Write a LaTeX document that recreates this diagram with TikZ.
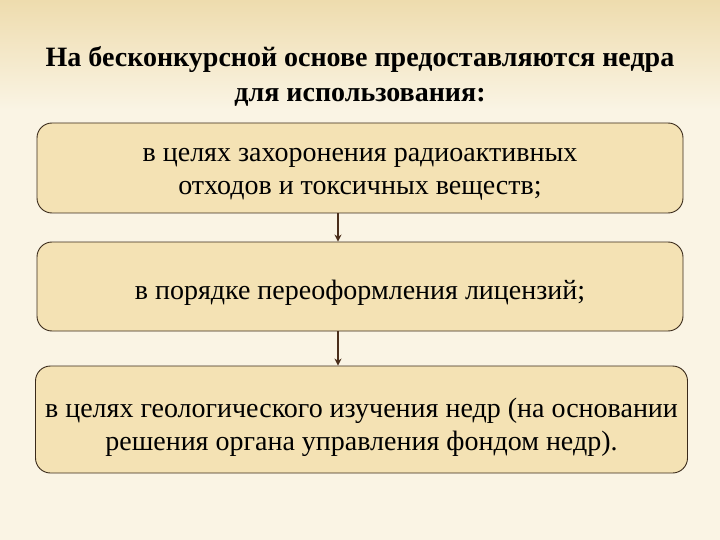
\documentclass[tikz,border=0pt]{standalone}
\usepackage{fontspec}
\setmainfont{Liberation Serif}
\usetikzlibrary{arrows.meta}
\definecolor{bgtop}{HTML}{EEDCAE}
\definecolor{bgbot}{HTML}{FAF4E4}
\definecolor{boxfill}{HTML}{F4E2B4}
\definecolor{boxline}{HTML}{3A2A1A}
\definecolor{arrowcol}{HTML}{4A2E1A}
\tikzset{
  casebox/.style={draw=boxline, line width=0.9pt, fill=boxfill, rounded corners=15pt,
    minimum width=646pt, inner sep=0pt},
  casetext/.style={align=center, inner sep=0pt, font=\fontsize{28}{33}\selectfont},
  flowarrow/.style={draw=arrowcol, line width=1.8pt, -{Stealth[length=7pt,width=7pt]}}
}
\begin{document}
\begin{tikzpicture}[x=1pt,y=-1pt]
\fill[bgbot] (0,0) rectangle (720,540); %background
\shade[top color=bgtop, bottom color=bgbot] (0,0) rectangle (720,110); %darker top band
\useasboundingbox (0,0) rectangle (720,540);
\node[align=center, font=\fontsize{28}{35}\selectfont\bfseries] (title) at (360,76)
  {На бесконкурсной основе предоставляются недра\\для использования:}; %heading
\node[casebox, minimum height=90pt] (burial) at (360,168) {}; %first case
\node[casebox, minimum height=89pt] (reissue) at (360,286.5) {}; %second case
\node[casebox, minimum width=652pt, minimum height=107pt] (survey) at (361.5,419.5) {}; %third case
\node[casetext] (burialtext) at ([yshift=-6pt]burial.center)
  {в целях захоронения радиоактивных\\отходов и токсичных веществ;};
\node[casetext] (reissuetext) at ([yshift=-6pt]reissue.center)
  {в порядке переоформления лицензий;};
\node[casetext] (surveytext) at ([yshift=-8pt]survey.center)
  {в целях геологического изучения недр (на основании\\решения органа управления фондом недр).};
\draw[flowarrow] (burial.south -| 338,0) -- (reissue.north -| 338,0); %arrow 1
\draw[flowarrow] (reissue.south -| 338,0) -- (survey.north -| 338,0); %arrow 2
\end{tikzpicture}
\end{document}
